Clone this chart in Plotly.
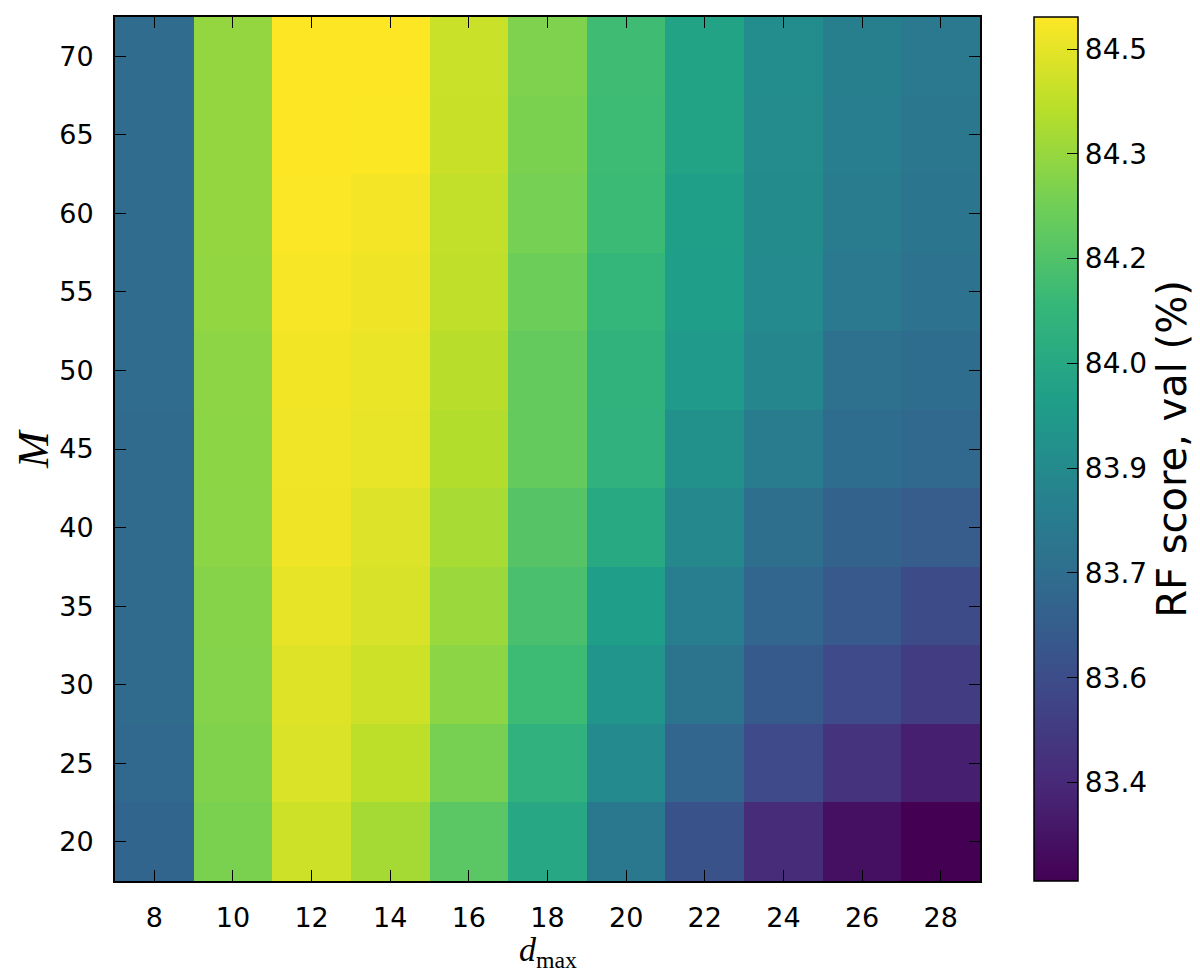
import plotly.graph_objects as go

# d_max values (columns) and M values (rows)
d_max = [8, 10, 12, 14, 16, 18, 20, 22, 24, 26, 28]
M_vals = [20, 25, 30, 35, 40, 45, 50, 55, 60, 65, 70]

# RF validation score (%), one list per M row (M = 20 ... 70)
score_M20 = [83.660, 84.245, 84.404, 84.328, 84.173, 83.996, 83.755, 83.573, 83.412, 83.312, 83.259]
score_M25 = [83.675, 84.256, 84.429, 84.374, 84.239, 84.051, 83.848, 83.662, 83.538, 83.442, 83.365]
score_M30 = [83.685, 84.264, 84.439, 84.404, 84.279, 84.103, 83.902, 83.729, 83.609, 83.538, 83.482]
score_M35 = [83.685, 84.268, 84.454, 84.425, 84.308, 84.134, 83.946, 83.780, 83.662, 83.604, 83.547]
score_M40 = [83.685, 84.277, 84.469, 84.435, 84.334, 84.163, 84.007, 83.838, 83.708, 83.645, 83.622]
score_M45 = [83.685, 84.280, 84.472, 84.456, 84.353, 84.198, 84.050, 83.882, 83.770, 83.697, 83.671]
score_M50 = [83.690, 84.281, 84.473, 84.461, 84.365, 84.200, 84.057, 83.927, 83.828, 83.718, 83.697]
score_M55 = [83.690, 84.290, 84.483, 84.469, 84.380, 84.216, 84.079, 83.946, 83.848, 83.759, 83.724]
score_M60 = [83.690, 84.293, 84.492, 84.479, 84.383, 84.235, 84.099, 83.952, 83.853, 83.775, 83.745]
score_M65 = [83.690, 84.293, 84.496, 84.494, 84.396, 84.245, 84.103, 83.972, 83.856, 83.790, 83.749]
score_M70 = [83.690, 84.293, 84.496, 84.496, 84.398, 84.254, 84.110, 83.974, 83.858, 83.792, 83.759]

cbar_tickvals = [84.45, 84.30, 84.15, 84.00, 83.85, 83.70, 83.55, 83.40]
cbar_ticktext = ["84.5", "84.3", "84.2", "84.0", "83.9", "83.7", "83.6", "83.4"]

x_title = "<i>d</i><sub>max</sub>"
y_title = "<i>M</i>"
cbar_title = "RF score, val (%)"

z = [score_M20, score_M25, score_M30, score_M35, score_M40, score_M45,
     score_M50, score_M55, score_M60, score_M65, score_M70]
zmin = min(min(r) for r in z)
zmax = max(max(r) for r in z)

W, H = 1200, 977
L, R, T, B = 107, 228, 9, 104
plot_w = W - L - R
plot_h = H - T - B

fig = go.Figure(go.Heatmap(
    x=d_max, y=M_vals, z=z,
    colorscale="Viridis", zmin=zmin, zmax=zmax,
    colorbar=dict(
        x=(1026 - L) / plot_w, xanchor="left", xpad=0,
        y=0.5, yanchor="middle", len=1, lenmode="fraction", ypad=0,
        thickness=44, thicknessmode="pixels",
        outlinewidth=1.5, outlinecolor="black",
        tickmode="array", tickvals=cbar_tickvals, ticktext=cbar_ticktext,
        ticks="inside", ticklen=11, tickwidth=1, tickcolor="black",
        tickfont=dict(family="DejaVu Sans", size=28, color="black"),
        title=dict(text=cbar_title, side="right",
                   font=dict(family="DejaVu Sans", size=40, color="black")),
    ),
))

axis_common = dict(
    showline=True, linecolor="black", linewidth=2, mirror="allticks",
    ticks="inside", ticklen=11, tickwidth=1.3, tickcolor="black",
    showgrid=False, zeroline=False, automargin=False,
    tickfont=dict(family="DejaVu Sans", size=27, color="black"),
)

fig.update_xaxes(range=[7, 29], tickmode="array", tickvals=d_max,
                 ticklabelstandoff=12, **axis_common)
fig.update_yaxes(range=[17.5, 72.5], tickmode="array", tickvals=M_vals,
                 ticklabelstandoff=14, **axis_common)

# axis titles as paper-anchored annotations
fig.add_annotation(text=x_title, xref="paper", yref="paper",
                   x=0.5, y=-(944 - (H - B)) / plot_h,
                   xanchor="center", yanchor="middle", showarrow=False,
                   font=dict(family="Liberation Serif", size=34, color="black"))
fig.add_annotation(text=y_title, xref="paper", yref="paper",
                   x=(25 - L) / plot_w, y=0.5, textangle=-90,
                   xanchor="center", yanchor="middle", showarrow=False,
                   font=dict(family="Liberation Serif", size=44, color="black"))

fig.update_layout(
    width=W, height=H,
    margin=dict(l=L, r=R, t=T, b=B, pad=0, autoexpand=False),
    paper_bgcolor="white", plot_bgcolor="white",
    font=dict(family="DejaVu Sans", color="black"),
)

fig.write_html("out.html")
